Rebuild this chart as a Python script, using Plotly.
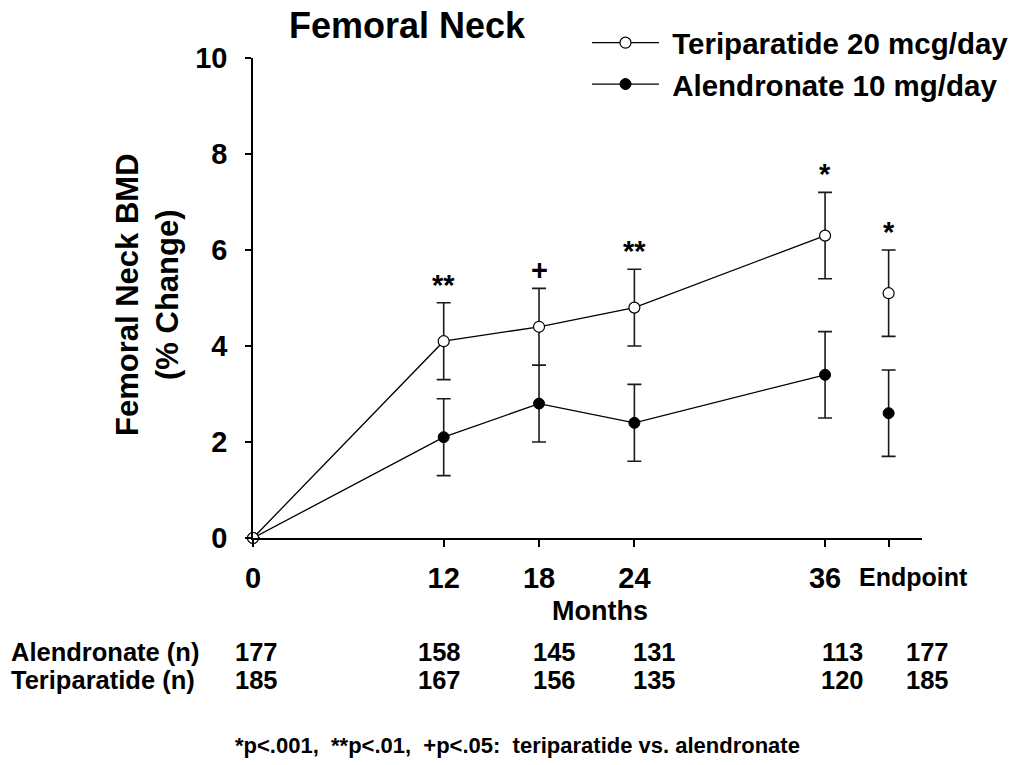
import plotly.graph_objects as go

# ---------------- data ----------------
months = [0, 12, 18, 24, 36]
endpoint_x = [40]
tick_vals = [0, 12, 18, 24, 36, 40]
tick_text = ["0", "12", "18", "24", "36", "Endpoint"]

teri_mean = [0, 4.1, 4.4, 4.8, 6.3]
teri_err = [None, 0.8, 0.8, 0.8, 0.9]
teri_end_mean = [5.1]
teri_end_err = [0.9]

alen_mean = [0, 2.1, 2.8, 2.4, 3.4]
alen_err = [None, 0.8, 0.8, 0.8, 0.9]
alen_end_mean = [2.6]
alen_end_err = [0.9]

sig_x = [12, 18, 24, 36, 40]
sig_labels = ["**", "+", "**", "*", "*"]

n_rows = ["Alendronate (n)", "Teriparatide (n)"]
n_alen = [177, 158, 145, 131, 113, 177]
n_teri = [185, 167, 156, 135, 120, 185]

footnote = "*p<.001,  **p<.01,  +p<.05:  teriparatide vs. alendronate"

# ---------------- layout constants ----------------
FONT = "Liberation Sans, Arial, sans-serif"
W, H = 1020, 765
L, R, T, B = 253, 98, 58, 227
PW, PH = W - L - R, H - T - B


def px_x(px):
    return (px - L) / PW


def px_y(py):
    return (H - B - py) / PH


err_style = dict(type="data", visible=True, color="#1a1a1a", thickness=1.6, width=7)

fig = go.Figure()

# Alendronate (filled)
fig.add_trace(go.Scatter(
    x=months, y=alen_mean, mode="lines+markers", name="&nbsp;Alendronate 10 mg/day",
    line=dict(color="black", width=1.3),
    marker=dict(symbol="circle", size=11, color="black", line=dict(color="black", width=1)),
    error_y=dict(array=alen_err, **err_style), cliponaxis=False, legendrank=2))
fig.add_trace(go.Scatter(
    x=endpoint_x, y=alen_end_mean, mode="markers", showlegend=False,
    marker=dict(symbol="circle", size=11, color="black", line=dict(color="black", width=1)),
    error_y=dict(array=alen_end_err, **err_style), cliponaxis=False))

# Teriparatide (open)
fig.add_trace(go.Scatter(
    x=months, y=teri_mean, mode="lines+markers", name="&nbsp;Teriparatide 20 mcg/day",
    line=dict(color="black", width=1.3),
    marker=dict(symbol="circle", size=11, color="white", line=dict(color="black", width=1.2)),
    error_y=dict(array=teri_err, **err_style), cliponaxis=False, legendrank=1))
fig.add_trace(go.Scatter(
    x=endpoint_x, y=teri_end_mean, mode="markers", showlegend=False,
    marker=dict(symbol="circle", size=11, color="white", line=dict(color="black", width=1.2)),
    error_y=dict(array=teri_end_err, **err_style), cliponaxis=False))

annotations = []

# significance markers above teriparatide upper error bars
teri_all_mean = teri_mean + teri_end_mean
teri_all_err = teri_err + teri_end_err
all_x = months + endpoint_x
for sx, lab in zip(sig_x, sig_labels):
    i = all_x.index(sx)
    top = teri_all_mean[i] + (teri_all_err[i] or 0)
    annotations.append(dict(
        x=sx, y=top, xref="x", yref="y", text=lab, showarrow=False,
        yanchor="bottom", xanchor="center", yshift=0,
        font=dict(family=FONT, size=29, color="black", weight="bold")))

# "Endpoint" tick label (sits to the right of its tick, as in the reference)
annotations.append(dict(
    x=tick_vals[-1], y=px_y(577), xref="x", yref="paper", text=tick_text[-1],
    showarrow=False, xanchor="center", yanchor="middle", xshift=25,
    font=dict(family=FONT, size=25, color="black", weight="bold")))

# sample size table
col_px = [256, 439, 554, 654, 842, 927]
row_py = [652, 680]
for label, py, vals in zip(n_rows, row_py, [n_alen, n_teri]):
    annotations.append(dict(
        x=px_x(10), y=px_y(py), xref="paper", yref="paper", text=label,
        showarrow=False, xanchor="left", yanchor="middle", borderpad=0,
        font=dict(family=FONT, size=25.5, color="black", weight="bold")))
    for cx, v in zip(col_px, vals):
        annotations.append(dict(
            x=px_x(cx), y=px_y(py), xref="paper", yref="paper", text=str(v),
            showarrow=False, xanchor="center", yanchor="middle", borderpad=0,
            font=dict(family=FONT, size=25.5, color="black", weight="bold")))

# y axis title
annotations.append(dict(
    x=px_x(147), y=px_y(295), xref="paper", yref="paper",
    text="Femoral Neck BMD<br>(% Change)", textangle=-90, showarrow=False,
    xanchor="center", yanchor="middle",
    font=dict(family=FONT, size=31, color="black", weight="bold")))

# x axis title
annotations.append(dict(
    x=px_x(600), y=px_y(611), xref="paper", yref="paper", text="Months",
    showarrow=False, xanchor="center", yanchor="middle", borderpad=0,
    font=dict(family=FONT, size=27, color="black", weight="bold")))

# footnote
annotations.append(dict(
    x=px_x(517), y=px_y(745), xref="paper", yref="paper", text=footnote,
    showarrow=False, xanchor="center", yanchor="middle",
    font=dict(family=FONT, size=22, color="black", weight="bold")))

tick_text_axis = [t if t != "Endpoint" else "" for t in tick_text]

fig.update_layout(
    width=W, height=H,
    margin=dict(l=L, r=R, t=T, b=B, autoexpand=False),
    paper_bgcolor="white", plot_bgcolor="white",
    title=dict(text="Femoral Neck", x=407 / W, xref="container", xanchor="center",
               y=1 - 25 / H, yref="container", yanchor="middle",
               font=dict(family=FONT, size=36, color="black", weight="bold")),
    showlegend=True,
    legend=dict(x=px_x(587), y=px_y(17), xanchor="left", yanchor="top",
                bgcolor="rgba(0,0,0,0)", itemwidth=67,
                font=dict(family=FONT, size=29.5, color="black", weight="bold")),
    xaxis=dict(range=[0, 42.1], tickvals=tick_vals, ticktext=tick_text_axis, tickangle=0,
               showgrid=False, zeroline=False, showline=True, linecolor="black", linewidth=1.5,
               ticks="outside", ticklen=7, tickwidth=1.5, tickcolor="black",
               ticklabelstandoff=6,
               tickfont=dict(family=FONT, size=29, color="black", weight="bold")),
    yaxis=dict(range=[0, 10], tickvals=[0, 2, 4, 6, 8, 10],
               showgrid=False, zeroline=False, showline=True, linecolor="black", linewidth=1.5,
               ticks="outside", ticklen=6, tickwidth=1.5, tickcolor="black",
               ticklabelstandoff=12,
               tickfont=dict(family=FONT, size=29, color="black", weight="bold")),
    annotations=annotations,
)

fig.write_html("out.html", config={"displayModeBar": False},
               post_script="document.body.style.margin='0px';")
